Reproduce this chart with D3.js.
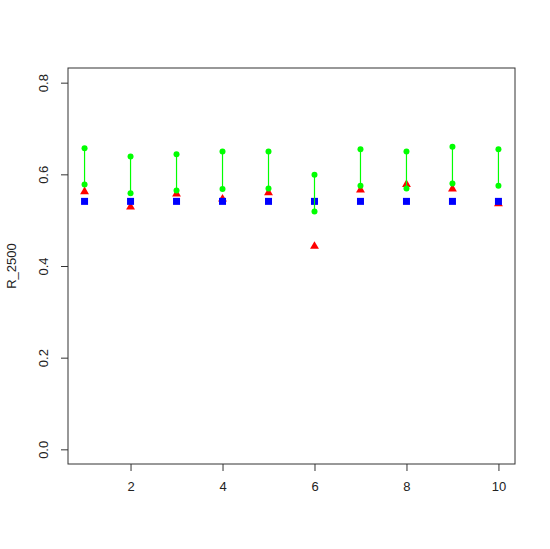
<!DOCTYPE html>
<html>
<head>
<meta charset="utf-8">
<script src="https://cdn.jsdelivr.net/npm/d3@7"></script>
<style>
  body { margin: 0; background: #fff; }
  text { font-family: "Liberation Sans", Arial, sans-serif; fill: #222; }
</style>
</head>
<body>
<svg id="chart" width="550" height="549"></svg>
<script>
// values
const idx = [1, 2, 3, 4, 5, 6, 7, 8, 9, 10];
const redVals = [0.561, 0.528, 0.556, 0.545, 0.559, 0.442, 0.565, 0.577, 0.567, 0.535];
const blueVals = [0.541, 0.541, 0.541, 0.541, 0.541, 0.541, 0.541, 0.541, 0.541, 0.541];
const greenLow = [0.578, 0.559, 0.565, 0.568, 0.569, 0.519, 0.575, 0.569, 0.580, 0.575];
const greenHigh = [0.657, 0.639, 0.644, 0.650, 0.650, 0.599, 0.655, 0.650, 0.660, 0.655];
const xTicks = [2, 4, 6, 8, 10];
const yTicks = [0.0, 0.2, 0.4, 0.6, 0.8];

const svg = d3.select("#chart");
const plotL = 68, plotR = 515, plotT = 68, plotB = 464;

// R style 4% padding on both axes
const x = d3.scaleLinear().domain([0.64, 10.36]).range([plotL, plotR]);
const y = d3.scaleLinear().domain([-0.032, 0.832]).range([plotB, plotT]);

// box
svg.append("rect")
  .attr("x", plotL).attr("y", plotT)
  .attr("width", plotR - plotL).attr("height", plotB - plotT)
  .attr("fill", "none").attr("stroke", "#333").attr("stroke-width", 1);

// x axis
const xAxis = svg.append("g").attr("transform", "translate(0," + plotB + ")")
  .call(d3.axisBottom(x).tickValues(xTicks).tickSize(7).tickPadding(11).tickFormat(d3.format("d")));
xAxis.select(".domain").remove();
xAxis.selectAll("line").attr("stroke", "#333");
xAxis.selectAll("text").style("font-size", "13px").attr("fill", "#222");

// y axis, labels rotated like R
const yAxis = svg.append("g").attr("transform", "translate(" + plotL + ",0)")
  .call(d3.axisLeft(y).tickValues(yTicks).tickSize(7).tickFormat(d3.format(".1f")));
yAxis.select(".domain").remove();
yAxis.selectAll("line").attr("stroke", "#333");
yAxis.selectAll("text")
  .style("font-size", "13px")
  .attr("fill", "#222")
  .attr("x", null).attr("dy", null)
  .attr("text-anchor", "middle")
  .attr("transform", "translate(-20,0) rotate(-90)");

svg.append("text")
  .attr("transform", "translate(16," + ((plotT + plotB) / 2) + ") rotate(-90)")
  .attr("text-anchor", "middle")
  .style("font-size", "13px")
  .text("R_2500");

// red triangles
const tri = d3.symbol().type(d3.symbolTriangle).size(34);
svg.append("g").selectAll("path")
  .data(idx).enter().append("path")
  .attr("d", tri)
  .attr("transform", (d, i) => "translate(" + x(d) + "," + (y(redVals[i]) - 0.5) + ")")
  .attr("fill", "#ff0000");

// blue squares
svg.append("g").selectAll("rect")
  .data(idx).enter().append("rect")
  .attr("x", d => x(d) - 3.5)
  .attr("y", (d, i) => y(blueVals[i]) - 3.5)
  .attr("width", 7).attr("height", 7)
  .attr("fill", "#0000ff");

// green ranges
const green = svg.append("g");
green.selectAll("line")
  .data(idx).enter().append("line")
  .attr("x1", d => x(d)).attr("x2", d => x(d))
  .attr("y1", (d, i) => y(greenLow[i]))
  .attr("y2", (d, i) => y(greenHigh[i]))
  .attr("stroke", "#00ff00").attr("stroke-width", 1.2);
green.selectAll("circle.lo")
  .data(idx).enter().append("circle")
  .attr("class", "lo")
  .attr("cx", d => x(d)).attr("cy", (d, i) => y(greenLow[i]))
  .attr("r", 3).attr("fill", "#00ff00");
green.selectAll("circle.hi")
  .data(idx).enter().append("circle")
  .attr("class", "hi")
  .attr("cx", d => x(d)).attr("cy", (d, i) => y(greenHigh[i]))
  .attr("r", 3).attr("fill", "#00ff00");
</script>
</body>
</html>
